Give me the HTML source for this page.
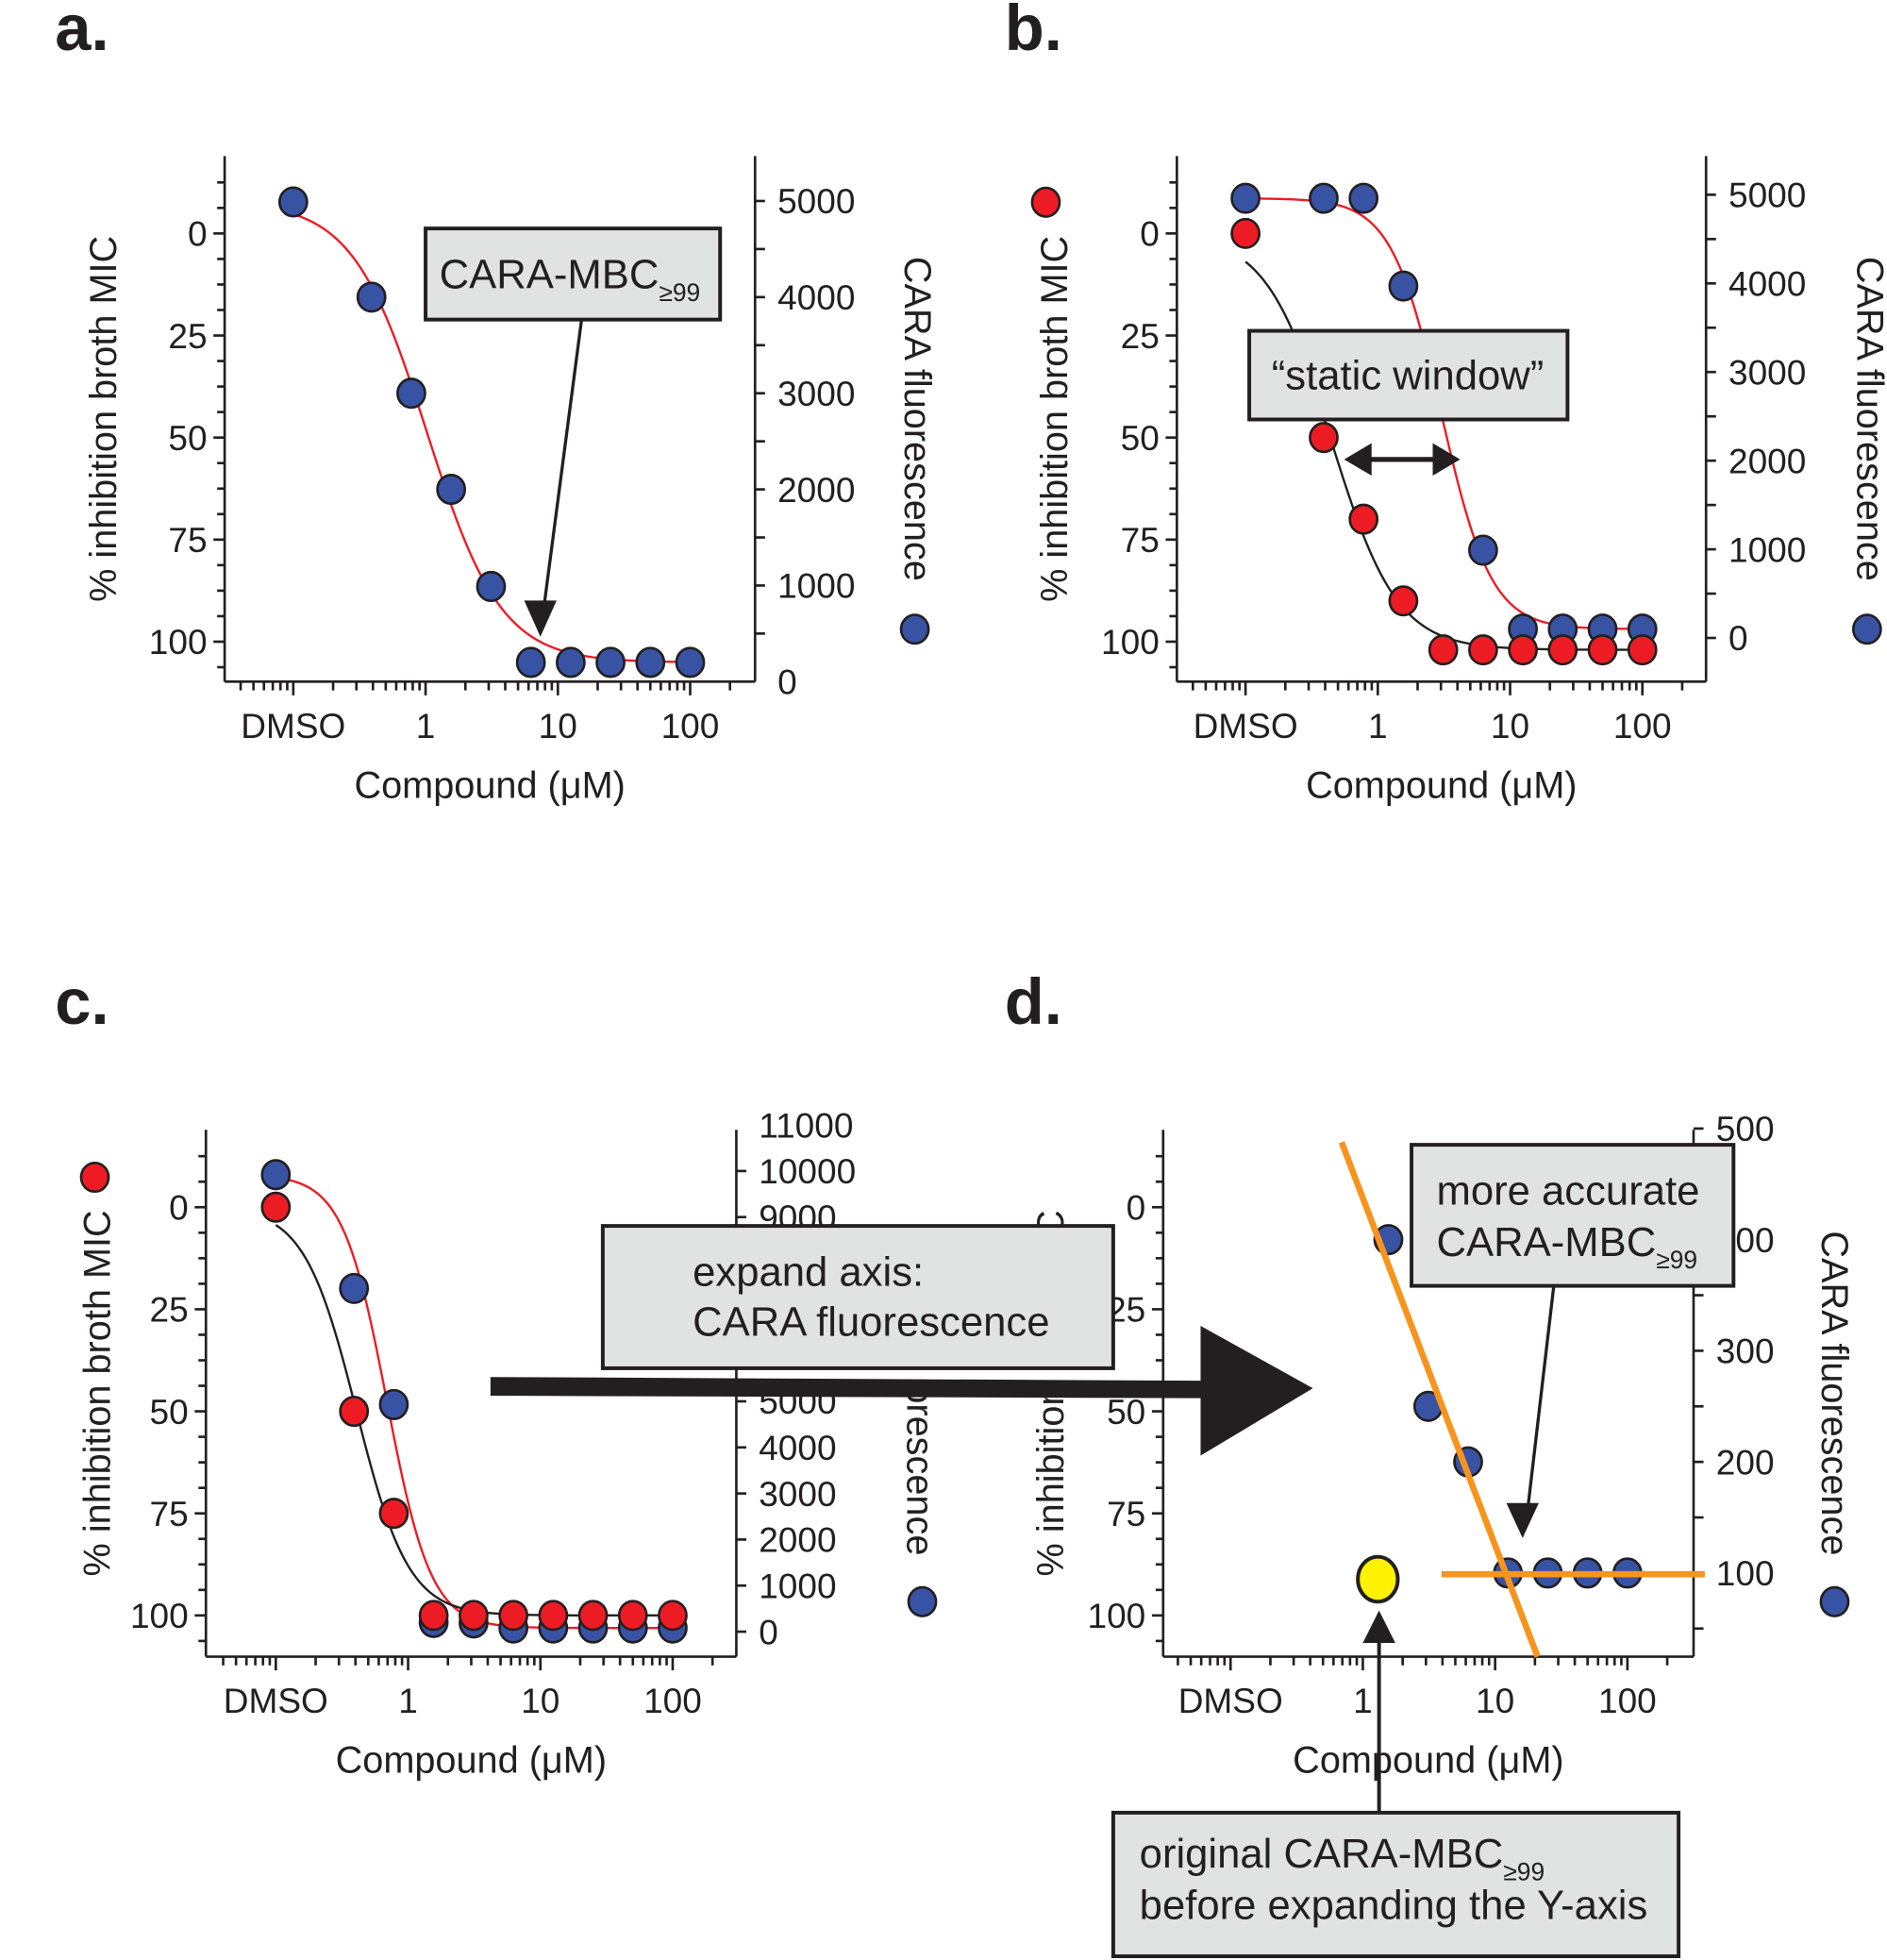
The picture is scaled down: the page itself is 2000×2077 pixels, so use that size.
<!DOCTYPE html>
<html><head><meta charset="utf-8">
<style>
html,body{margin:0;padding:0;background:#fff;}
svg{display:block;}
.tk{font-family:"Liberation Sans Narrow","Liberation Sans",sans-serif;font-size:28px;fill:#231f20;}
.tt{font-family:"Liberation Sans",sans-serif;font-size:30px;fill:#231f20;}
.pl{font-family:"Liberation Sans",sans-serif;font-size:52px;font-weight:bold;fill:#231f20;}
.bx{font-family:"Liberation Sans",sans-serif;font-size:33px;fill:#231f20;}
</style></head>
<body>
<svg id="fig" width="2000" height="2077" viewBox="0 0 1512 1570" preserveAspectRatio="none" xmlns="http://www.w3.org/2000/svg">
<g id="layer"></g>
</svg>
<script>
// ---- data ----
const concLabels = ['DMSO','0.39','0.78','1.56','3.125','6.25','12.5','25','50','100'];
const conc = [0.1,0.39,0.78,1.56,3.125,6.25,12.5,25,50,100];
const xTickLabels = ['DMSO','1','10','100'];
const xTickVals = [0.1,1,10,100];
const pctTicks = [0,25,50,75,100];
const aBlue = [4990,4000,3000,2000,990,200,200,200,200,200];
const bBlue = [4960,4960,4960,3970,null,990,100,100,100,100];
const bRed = [0,50,70,90,102,102,102,102,102,102];
const cBlue = [9920,7450,4930,200,190,80,80,80,80,80];
const cRed = [0,50,75,100,100,100,100,100,100,100];
const dBlue = [null,null,null,400,250,200,100,100,100,100];
const rTicksA = [0,1000,2000,3000,4000,5000];
const rTicksB = [0,1000,2000,3000,4000,5000];
const rTicksC = [0,1000,2000,3000,4000,5000,6000,7000,8000,9000,10000,11000];
const rTicksD = [100,200,300,400,500];

const NS='http://www.w3.org/2000/svg';
const root=document.getElementById('layer');
function mk(tag,attrs,parent){const e=document.createElementNS(NS,tag);for(const k in attrs)e.setAttribute(k,attrs[k]);(parent||root).appendChild(e);return e;}
function txt(s,x,y,cls,parent,extra){const e=mk('text',Object.assign({x:x,y:y,class:cls},extra||{}),parent);e.textContent=s;return e;}

function panel(P){
  const g=mk('g',{});
  
  
  const X=c=>P.x1+P.dec*Math.log10(c);
  const YL=v=>P.y0+P.k*v;
  const YR=v=>P.rz-P.rk*v;
  P.X=X;P.YL=YL;P.YR=YR;
  const ax={stroke:'#231f20','stroke-width':2,fill:'none'};
  const la=mk('line',Object.assign({x1:P.L,y1:P.T,x2:P.L,y2:P.B},ax),g);
  
  const ra=mk('line',Object.assign({x1:P.R,y1:P.T,x2:P.R,y2:P.B},ax),g);
  
  const xa=mk('line',Object.assign({x1:P.L,y1:P.B,x2:P.R,y2:P.B},ax),g);
  
  for(let v=-25;v<=115;v+=6.25){const y=YL(v);if(y<P.T+2||y>P.B-2)continue;
    const major=Math.abs(v%25)<0.01;
    mk('line',Object.assign({x1:P.L-(major?9:6),y1:y,x2:P.L,y2:y},ax),g);}
  pctTicks.forEach(v=>{const t=txt(String(v),P.L-14,YL(v)+10,'tk',g,{'text-anchor':'end'});
    });
  const rt=P.rticks;const step=rt[1]-rt[0];
  for(let v=rt[0]-step;v<=rt[rt.length-1]+0.01;v+=step/(P.rminor||1)){const y=YR(v);if(y<P.T-3||y>P.B-2)continue;
    mk('line',Object.assign({x1:P.R,y1:y,x2:P.R+8,y2:y},ax),g);}
  rt.forEach(v=>{const t=txt(String(v),P.R+18,YR(v)+10,'tk',g);
    });
  for(let d=-2;d<=2;d++){for(let m=1;m<=9;m++){const c=m*Math.pow(10,d);const x=X(c);if(x<P.L+8||x>P.R-4)continue;
    mk('line',Object.assign({x1:x,y1:P.B,x2:x,y2:P.B+(m===1?11:7)},ax),g);}}
  xTickVals.forEach((c,i)=>{const t=txt(xTickLabels[i],X(c),P.B+45,'tk',g,{'text-anchor':'middle'});
    });
  const xt=txt('Compound (\u03bcM)',(P.L+P.R)/2,P.B+93,'tt',g,{'text-anchor':'middle'});
  
  const cy=(P.T+P.B)/2;
  const lt=txt('% inhibition broth MIC',P.ltx,cy,'tt',g,{'text-anchor':'middle',transform:'rotate(-90 '+P.ltx+' '+cy+')'});
  
  const rtl=txt('CARA fluorescence',P.rtx,cy,'tt',g,{'text-anchor':'middle',transform:'rotate(90 '+P.rtx+' '+cy+')'});
  
  const pl=txt(P.letter,P.lx,P.ly,'pl',g);
  
  P.g=g;return P;
}
// logistic fit (grid search) on data
function fit(vals){
  const pts=[];vals.forEach((v,i)=>{if(v!==null)pts.push([Math.log10(conc[i]),v]);});
  const top=pts[0][1],bot=pts[pts.length-1][1];
  let best=null,be=Infinity;
  for(let le=-1.2;le<=2.2;le+=0.01){for(let h=0.5;h<=6;h+=0.05){
    let e=0;for(const [lx,v] of pts){const f=bot+(top-bot)/(1+Math.pow(10,h*(lx-le)));e+=(f-v)*(f-v);}
    if(e<be){be=e;best=[le,h];}}}
  return lx=>bot+(top-bot)/(1+Math.pow(10,best[1]*(lx-best[0])));
}
function drawCurve(P,vals,Y,color,name){
  const f=fit(vals);let d='';
  for(let lx=-1;lx<=2.0001;lx+=0.02){const x=P.X(Math.pow(10,lx)),y=Y(f(lx));d+=(d?' L':'M')+x.toFixed(2)+','+y.toFixed(2);}
  const p=mk('path',{d:d,stroke:color,'stroke-width':1.8,fill:'none'},P.g);
  }
function drawDots(P,vals,Y,color,name){vals.forEach((v,i)=>{if(v===null)return;
  const c=mk('ellipse',{cx:P.X(conc[i]),cy:Y(v),rx:11,ry:11.5,fill:color,stroke:'#231f20','stroke-width':2},P.g);
  });}
function legendDot(x,y,color,name){const c=mk('ellipse',{cx:x,cy:y,rx:11,ry:11.5,fill:color,stroke:'#231f20','stroke-width':2});
  }
const BLUE='#3953a4',RED='#ed1c24',ORANGE='#f7941d';

const A=panel({name:'panel-a',letter:'a.',lx:44,ly:40,L:180,R:605,T:125,B:546,y0:187,k:3.27,x1:341,dec:106,rz:546,rk:0.077,rticks:rTicksA,rminor:2,ltx:93,rtx:725});
drawCurve(A,aBlue,A.YR,RED,'fit-curve-fluorescence');
drawDots(A,aBlue,A.YR,BLUE,'point-fluorescence');
legendDot(733,504,BLUE,'legend-fluorescence-dot');

const B=panel({name:'panel-b',letter:'b.',lx:805,ly:40,L:943,R:1367,T:125,B:546,y0:187,k:3.27,x1:1104,dec:106,rz:511,rk:0.071,rticks:rTicksB,rminor:2,ltx:855,rtx:1488});
drawCurve(B,bRed,B.YL,'#231f20','fit-curve-inhibition');
drawCurve(B,bBlue,B.YR,RED,'fit-curve-fluorescence');
drawDots(B,bBlue,B.YR,BLUE,'point-fluorescence');
drawDots(B,bRed,B.YL,RED,'point-inhibition');
legendDot(838,162,RED,'legend-inhibition-dot');
legendDot(1496,504,BLUE,'legend-fluorescence-dot');

const C=panel({name:'panel-c',letter:'c.',lx:44,ly:820,L:165,R:590,T:905,B:1327,y0:967,k:3.27,x1:327,dec:106,rz:1307,rk:0.0369,rticks:rTicksC,rminor:1,ltx:88,rtx:727});
drawCurve(C,cBlue,C.YR,RED,'fit-curve-fluorescence');
drawCurve(C,cRed,C.YL,'#231f20','fit-curve-inhibition');
drawDots(C,cBlue,C.YR,BLUE,'point-fluorescence');
drawDots(C,cRed,C.YL,RED,'point-inhibition');
legendDot(76,943,RED,'legend-inhibition-dot');
legendDot(739,1283,BLUE,'legend-fluorescence-dot');

const D=panel({name:'panel-d',letter:'d.',lx:805,ly:820,L:932,R:1357,T:905,B:1327,y0:967,k:3.27,x1:1092,dec:106,rz:1349,rk:0.89,rticks:rTicksD,rminor:2,ltx:852,rtx:1460});
drawDots(D,dBlue,D.YR,BLUE,'point-fluorescence');
legendDot(1470,1283,BLUE,'legend-fluorescence-dot');
const o1=mk('line',{x1:1075,y1:915,x2:1232,y2:1327,stroke:ORANGE,'stroke-width':5});

const o2=mk('line',{x1:1155,y1:1261,x2:1366,y2:1261,stroke:ORANGE,'stroke-width':5});

const yd=mk('ellipse',{cx:1104,cy:1265,rx:16,ry:18,fill:'#fff200',stroke:'#231f20','stroke-width':3});


const wm=mk('rect',{x:700,y:990,width:190,height:115,fill:'#fff'});


function box(x,y,w,h,name){const r=mk('rect',{x:x,y:y,width:w,height:h,fill:'#e1e2e2',stroke:'#231f20','stroke-width':3});
  return r;}
function arrowHead(x,y,dir,w,l,name){
  let pts;
  if(dir==='down')pts=[[x,y],[x-w,y-l],[x+w,y-l]];
  else if(dir==='up')pts=[[x,y],[x-w,y+l],[x+w,y+l]];
  else if(dir==='right')pts=[[x,y],[x-l,y-w],[x-l,y+w]];
  else pts=[[x,y],[x+l,y-w],[x+l,y+w]];
  const p=mk('polygon',{points:pts.map(p=>p.join(',')).join(' '),fill:'#231f20'});
  }
function line(x1,y1,x2,y2,w,name){const l=mk('line',{x1:x1,y1:y1,x2:x2,y2:y2,stroke:'#231f20','stroke-width':w});
  }

box(341,183,236,73,'mbc-callout-box');
let t=txt('CARA-MBC',352,231,'bx');
let s=mk('tspan',{'font-size':'20px',dy:10});s.textContent='\u226599';t.appendChild(s);
line(466,256,436,485,2.5,'mbc-callout-arrow');
arrowHead(433,510,'down',13,29,'mbc-callout-arrowhead');

box(1001,265,255,71,'static-window-box');
t=txt('\u201cstatic window\u201d',1128,312,'bx',null,{'text-anchor':'middle'});
line(1095,368,1152,368,4,'static-window-arrow');
arrowHead(1077,368,'left',13,22,'static-window-arrowhead-left');
arrowHead(1170,368,'right',13,22,'static-window-arrowhead-right');

box(1131,917,258,113,'accurate-mbc-box');
t=txt('more accurate',1151,965,'bx');
t=txt('CARA-MBC',1151,1006,'bx');
s=mk('tspan',{'font-size':'20px',dy:10});s.textContent='\u226599';t.appendChild(s);
line(1245,1030,1224,1210,2.5,'accurate-mbc-arrow');
arrowHead(1220,1232,'down',13,28,'accurate-mbc-arrowhead');

box(483,982,409,114,'expand-axis-box');
t=txt('expand axis:',555,1030,'bx');
t=txt('CARA fluorescence',555,1070,'bx');
const ba=mk('polygon',{points:'393,1103 962,1106 962,1062 1052,1112 962,1166 962,1120 393,1118',fill:'#231f20'});


line(1105,1452,1105,1312,3,'original-mbc-arrow');
arrowHead(1105,1290,'up',13,26,'original-mbc-arrowhead');
box(892,1452,453,115,'original-mbc-box');
t=txt('original CARA-MBC',913,1496,'bx');
s=mk('tspan',{'font-size':'20px',dy:10});s.textContent='\u226599';t.appendChild(s);
t=txt('before expanding the Y-axis',913,1537,'bx');
</script>
</body></html>
